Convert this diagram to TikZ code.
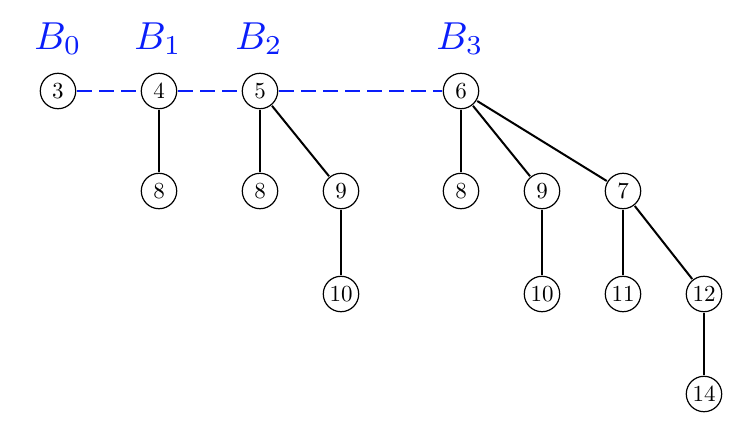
\documentclass[tikz,border=0pt]{standalone}
\begin{document}
\begin{tikzpicture}[x=1pt,y=-1pt,
  vtx/.style={circle,draw,line width=1.2pt,minimum size=15.4pt,inner sep=0pt,font=\normalsize,scale=2.3},
  edge/.style={line width=2pt},
  blink/.style={line width=2.4pt,dash pattern=on 15pt off 7pt,color=bblue},
  blab/.style={text=bblue,font=\normalsize,inner sep=0pt,scale=3.9,anchor=base}]
\definecolor{bblue}{RGB}{10,30,250}
\useasboundingbox (0,0) rectangle (748,424);
\node[blab] (b0) at (58,49) {$B_0$};
\node[blab] (b1) at (158,49) {$B_1$};
\node[blab] (b2) at (259,49) {$B_2$};
\node[blab] (b3) at (460,49) {$B_3$};
\node[vtx] (n3) at (58,91) {3};
\node[vtx] (n4) at (159,91) {4};
\node[vtx] (n5) at (260,91) {5};
\node[vtx] (n6) at (461,91) {6};
\node[vtx] (n4a) at (159,191) {8};
\node[vtx] (n5a) at (260,191) {8};
\node[vtx] (n5b) at (341,191) {9};
\node[vtx] (n5c) at (341,294) {10};
\node[vtx] (n6a) at (461,191) {8};
\node[vtx] (n6b) at (542,191) {9};
\node[vtx] (n6c) at (623,191) {7};
\node[vtx] (n6d) at (542,294) {10};
\node[vtx] (n6e) at (623,294) {11};
\node[vtx] (n6f) at (704,294) {12};
\node[vtx] (n6g) at (704,394) {14};
\draw[blink] (n3) -- (n4);
\draw[blink] (n4) -- (n5);
\draw[blink] (n5) -- (n6);
\draw[edge] (n4) -- (n4a);
\draw[edge] (n5) -- (n5a);
\draw[edge] (n5) -- (n5b);
\draw[edge] (n5b) -- (n5c);
\draw[edge] (n6) -- (n6a);
\draw[edge] (n6) -- (n6b);
\draw[edge] (n6) -- (n6c);
\draw[edge] (n6b) -- (n6d);
\draw[edge] (n6c) -- (n6e);
\draw[edge] (n6c) -- (n6f);
\draw[edge] (n6f) -- (n6g);
\end{tikzpicture}
\end{document}
